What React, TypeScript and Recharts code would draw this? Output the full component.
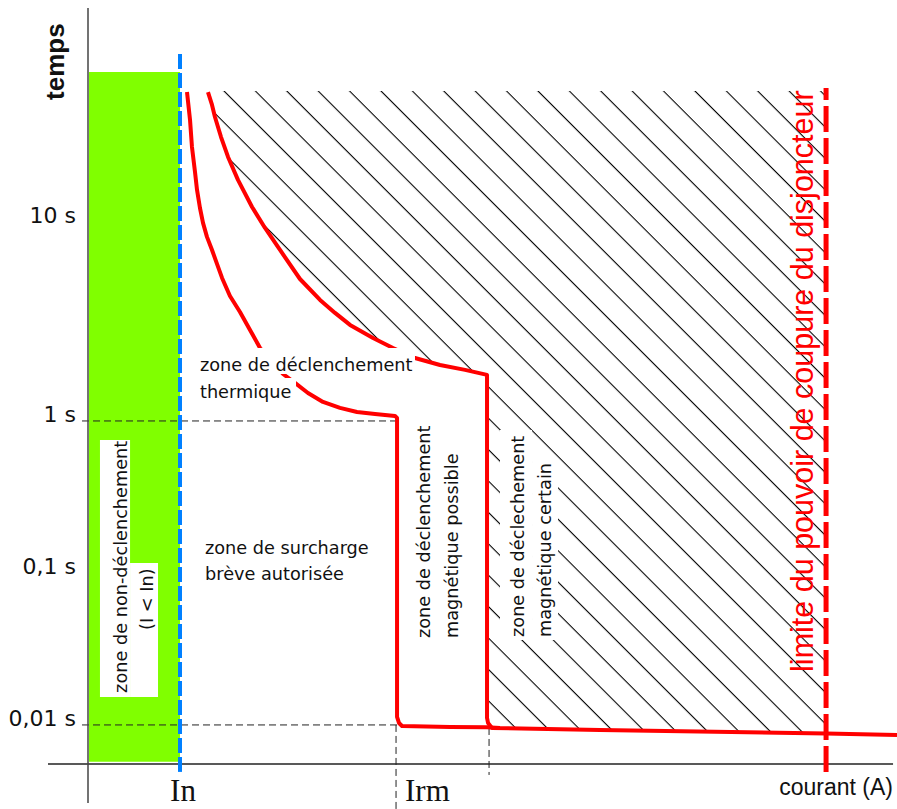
import React from "react";
import {
  ComposedChart,
  Line,
  Area,
  XAxis,
  YAxis,
  ReferenceLine,
  ReferenceArea,
  ReferenceDot,
} from "recharts";

// x : current as a multiple of In (In = 1)
// y : position on the schematic time axis, one step per decade
//     (0 = 0,01 s, 1 = 0,1 s, 2 = 1 s ; the upper decade is drawn stretched)

const xTicks = [1, 3.359];
const xTickLabels = ["In", "Irm"];

const yTicks = [0, 1, 2, 3.309];
const yTickLabels = ["0,01 s", "0,1 s", "1 s", "10 s"];

// lower bound of the thermal zone, then magnetic trip at Irm
const curveAX = [1.076, 1.109, 1.13, 1.163, 1.185, 1.217, 1.25, 1.293, 1.348, 1.402, 1.457, 1.543, 1.652, 1.761, 1.87, 2.0, 2.12, 2.25, 2.391, 2.554, 2.739, 2.924, 3.12, 3.337, 3.359, 3.359, 3.38, 3.413, 3.935, 4.337, 4.478];
const curveAY = [4.164, 3.98, 3.803, 3.638, 3.52, 3.401, 3.303, 3.211, 3.125, 3.033, 2.941, 2.822, 2.717, 2.599, 2.48, 2.388, 2.309, 2.25, 2.184, 2.125, 2.086, 2.059, 2.046, 2.033, 2.02, 0.053, 0.013, -0.007, -0.013, -0.016, -0.02];

// upper bound of the thermal zone, then certain magnetic trip
const curveBX = [1.304, 1.348, 1.38, 1.446, 1.522, 1.63, 1.783, 1.924, 2.087, 2.304, 2.522, 2.685, 2.848, 3.098, 3.315, 3.554, 3.826, 4.098, 4.337, 4.337, 4.348, 4.391, 5.565, 8.022, 8.793];
const curveBY = [4.164, 4.079, 4.0, 3.868, 3.737, 3.586, 3.408, 3.27, 3.125, 2.934, 2.796, 2.711, 2.632, 2.546, 2.48, 2.414, 2.368, 2.336, 2.303, 0.046, 0.013, -0.02, -0.033, -0.056, -0.066];

const breakingLimit = 8.022; // pouvoir de coupure
const hatchTop = 4.171;

const curveA = curveAX.map((x, i) => ({ x, y: curveAY[i] }));
const curveB = curveBX.map((x, i) => ({ x, y: curveBY[i] }));
const hatch = curveB
  .filter((p) => p.x <= breakingLimit)
  .map((p) => ({ x: p.x, range: [p.y, hatchTop] }));

const comic = "DejaVu Sans";

const YTick = (props: any) => {
  const { x, y, payload } = props;
  const i = yTicks.indexOf(payload.value);
  return (
    <text x={x - 4} y={y + 1} textAnchor="end" fontFamily={comic} fontSize={22} fill="#111">
      {yTickLabels[i]}
    </text>
  );
};

const XTick = (props: any) => {
  const { x, y, payload } = props;
  const i = xTicks.indexOf(payload.value);
  return (
    <text
      x={i === 0 ? x + 3 : x + 8}
      y={y + 29}
      textAnchor={i === 0 ? "middle" : "start"}
      fontFamily="Liberation Serif"
      fontSize={31}
      fill="#111"
    >
      {xTickLabels[i]}
    </text>
  );
};

const note = (
  key: string,
  text: string,
  x: number,
  y: number,
  opts: { rotate?: boolean; size?: number; family?: string; weight?: string; color?: string; anchor?: string } = {}
) => (
  <ReferenceDot
    key={key}
    x={x}
    y={y}
    r={1}
    ifOverflow="visible"
    zIndex={70}
    shape={(p: any) => (
      <text
        x={p.cx}
        y={p.cy}
        transform={opts.rotate ? `rotate(-90 ${p.cx} ${p.cy})` : undefined}
        textAnchor={opts.anchor || "start"}
        fontFamily={opts.family || comic}
        fontSize={opts.size || 17.7}
        fontWeight={opts.weight || "normal"}
        fill={opts.color || "#111"}
      >
        {text}
      </text>
    )}
  />
);

const App = () => {
  return (
    <div style={{ position: "absolute", left: 0, top: 0 }}>
      <ComposedChart width={897} height={809} margin={{ top: 8, right: 0, bottom: 0, left: 0 }}>
        <defs>
          <pattern id="hatch" patternUnits="userSpaceOnUse" width={22.2} height={10} patternTransform="rotate(-45)">
            <line x1={5.25} y1={-1} x2={5.25} y2={11} stroke="#000" strokeWidth={1.1} />
          </pattern>
        </defs>
        <XAxis
          type="number"
          dataKey="x"
          domain={[0, 8.793]}
          ticks={xTicks}
          axisLine={false}
          tickLine={false}
          height={45}
          tick={<XTick />}
        />
        <YAxis
          type="number"
          domain={[-0.257, 4.717]}
          ticks={yTicks}
          axisLine={false}
          tickLine={false}
          width={88}
          tick={<YTick />}
        />

        {/* zone de non-déclenchement */}
        <ReferenceArea x1={0.011} x2={1.0} y1={-0.243} y2={4.296} fill="#80ff00" fillOpacity={1} stroke="none" ifOverflow="visible" zIndex={10} />

        {/* zone de déclenchement magnétique certain */}
        <Area data={hatch} dataKey="range" type="linear" stroke="none" fill="url(#hatch)" fillOpacity={1} isAnimationActive={false} zIndex={20} />

        {/* pointillés de lecture */}
        <ReferenceLine segment={[{ x: -0.065, y: 2 }, { x: 3.359, y: 2 }]} stroke="#222" strokeDasharray="7 4" ifOverflow="visible" zIndex={30} />
        <ReferenceLine segment={[{ x: -0.065, y: 0 }, { x: 3.359, y: 0 }]} stroke="#222" strokeDasharray="7 4" ifOverflow="visible" zIndex={30} />
        <ReferenceLine segment={[{ x: 3.348, y: 0 }, { x: 3.348, y: -0.553 }]} stroke="#222" strokeDasharray="7 4" ifOverflow="visible" zIndex={30} />
        <ReferenceLine segment={[{ x: 4.359, y: -0.02 }, { x: 4.359, y: -0.329 }]} stroke="#222" strokeDasharray="7 4" ifOverflow="visible" zIndex={30} />

        {/* axes */}
        <ReferenceLine segment={[{ x: -0.435, y: -0.257 }, { x: 8.75, y: -0.257 }]} stroke="#222" strokeWidth={1.5} ifOverflow="visible" zIndex={35} />
        <ReferenceLine segment={[{ x: 0, y: -0.513 }, { x: 0, y: 4.717 }]} stroke="#444" strokeWidth={1.5} ifOverflow="visible" zIndex={35} />

        <Line data={curveA} dataKey="y" type="linear" stroke="#ff0000" strokeWidth={4} strokeLinejoin="round" dot={false} isAnimationActive={false} zIndex={40} />
        <Line data={curveB} dataKey="y" type="linear" stroke="#ff0000" strokeWidth={4} strokeLinejoin="round" dot={false} isAnimationActive={false} zIndex={40} />

        {/* limite du pouvoir de coupure */}
        <ReferenceLine segment={[{ x: breakingLimit, y: -0.309 }, { x: breakingLimit, y: 4.191 }]} stroke="#ff0000" strokeWidth={5} strokeDasharray="26 6" ifOverflow="visible" zIndex={45} />
        {/* In */}
        <ReferenceLine segment={[{ x: 1.0, y: -0.309 }, { x: 1.0, y: 4.441 }]} stroke="#0080ff" strokeWidth={4} strokeDasharray="15 4" ifOverflow="visible" zIndex={50} />

        {/* fonds blancs des étiquettes */}
        <ReferenceArea x1={0.13} x2={0.457} y1={0.184} y2={1.875} fill="#fff" fillOpacity={1} stroke="none" zIndex={60} />
        <ReferenceArea x1={0.457} x2={0.761} y1={0.184} y2={1.066} fill="#fff" fillOpacity={1} stroke="none" zIndex={60} />
        <ReferenceArea x1={1.196} x2={3.554} y1={2.309} y2={2.48} fill="#fff" fillOpacity={1} stroke="none" zIndex={60} />
        <ReferenceArea x1={1.196} x2={2.261} y1={2.105} y2={2.283} fill="#fff" fillOpacity={1} stroke="none" zIndex={60} />
        <ReferenceArea x1={4.478} x2={4.826} y1={0.559} y2={1.941} fill="#fff" fillOpacity={1} stroke="none" zIndex={60} />
        <ReferenceArea x1={4.826} x2={5.109} y1={0.559} y2={1.757} fill="#fff" fillOpacity={1} stroke="none" zIndex={60} />

        {note("t1", "zone de déclenchement", 1.217, 2.329)}
        {note("t2", "thermique", 1.217, 2.151)}
        {note("t3", "zone de surcharge", 1.272, 1.125)}
        {note("t4", "brève autorisée", 1.272, 0.954)}
        {note("t5", "zone de déclenchement", 3.717, 0.572, { rotate: true })}
        {note("t6", "magnétique possible", 4.022, 0.572, { rotate: true })}
        {note("t7", "zone de déclechement", 4.739, 0.579, { rotate: true })}
        {note("t8", "magnétique certain", 5.033, 0.579, { rotate: true })}
        {note("t9", "zone de non-déclenchement", 0.424, 0.211, { rotate: true })}
        {note("t10", "(I < In)", 0.707, 0.625, { rotate: true })}
        {note("t11", "limite du pouvoir de coupure du disjoncteur", 7.88, 0.349, {
          rotate: true,
          size: 30.5,
          family: "Liberation Sans",
          color: "#ff0000",
        })}
        {note("t12", "temps", -0.261, 4.112, { rotate: true, size: 26, family: "Liberation Sans", weight: "bold" })}
        {note("t13", "courant (A)", 8.75, -0.461, { size: 23, family: "Liberation Sans", anchor: "end" })}
      </ComposedChart>
    </div>
  );
};

export default App;
